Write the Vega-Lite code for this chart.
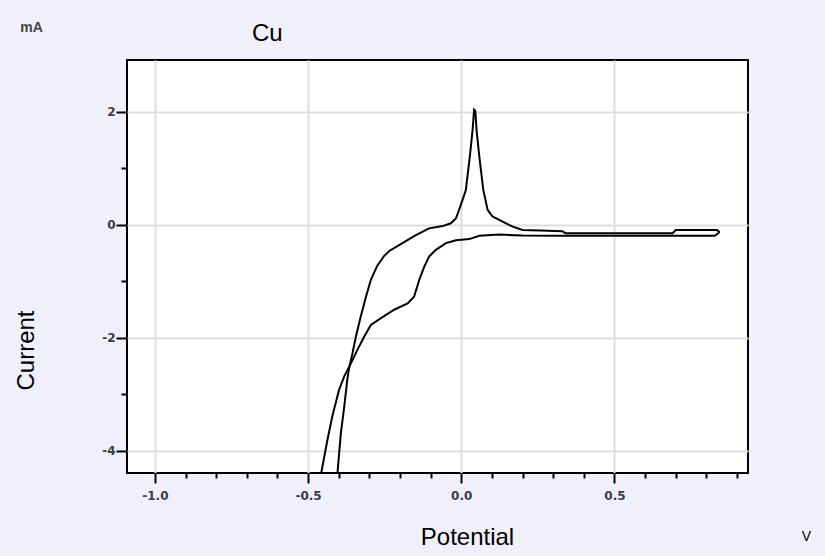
{
  "$schema": "https://vega.github.io/schema/vega-lite/v6.json",
  "width": 621,
  "height": 413,
  "autosize": {"type": "none"},
  "padding": {"left": 127, "top": 60, "right": 77, "bottom": 83},
  "background": "#f0f0fb",
  "config": {
    "view": {"fill": "white", "stroke": "black", "strokeWidth": 2},
    "axis": {"labelFont": "DejaVu Sans", "labelFontSize": 12, "labelFontWeight": "bold", "labelColor": "#3a3a48", "titleFont": "Liberation Sans", "titleFontWeight": "normal", "titleColor": "#000"}
  },
  "title": {"text": "Cu", "anchor": "start", "frame": "group", "dx": 125, "offset": 0, "dy": 45, "fontSize": 24, "font": "Liberation Sans", "fontWeight": "normal", "color": "#000", "baseline": "alphabetic"},
  "datasets": {
    "cathodic": [
      {"o": 1, "E": 0.843, "I": -0.13},
      {"o": 2, "E": 0.828, "I": -0.19},
      {"o": 3, "E": 0.70, "I": -0.19},
      {"o": 4, "E": 0.50, "I": -0.19},
      {"o": 5, "E": 0.33, "I": -0.19},
      {"o": 6, "E": 0.20, "I": -0.185},
      {"o": 7, "E": 0.124, "I": -0.17},
      {"o": 8, "E": 0.059, "I": -0.19},
      {"o": 9, "E": 0.026, "I": -0.25},
      {"o": 10, "E": -0.017, "I": -0.27},
      {"o": 11, "E": -0.05, "I": -0.32},
      {"o": 12, "E": -0.083, "I": -0.44},
      {"o": 13, "E": -0.105, "I": -0.56},
      {"o": 14, "E": -0.121, "I": -0.74},
      {"o": 15, "E": -0.137, "I": -0.97},
      {"o": 16, "E": -0.154, "I": -1.27},
      {"o": 17, "E": -0.175, "I": -1.39},
      {"o": 18, "E": -0.219, "I": -1.50},
      {"o": 19, "E": -0.262, "I": -1.65},
      {"o": 20, "E": -0.295, "I": -1.77},
      {"o": 21, "E": -0.317, "I": -1.98},
      {"o": 22, "E": -0.339, "I": -2.21},
      {"o": 23, "E": -0.360, "I": -2.45},
      {"o": 24, "E": -0.382, "I": -2.68},
      {"o": 25, "E": -0.399, "I": -2.92},
      {"o": 26, "E": -0.421, "I": -3.39},
      {"o": 27, "E": -0.437, "I": -3.81},
      {"o": 28, "E": -0.457, "I": -4.39},
      {"o": 29, "E": -0.463, "I": -4.6}
    ],
    "anodic": [
      {"o": 1, "E": -0.41, "I": -4.6},
      {"o": 2, "E": -0.404, "I": -4.39},
      {"o": 3, "E": -0.393, "I": -3.69},
      {"o": 4, "E": -0.382, "I": -3.22},
      {"o": 5, "E": -0.372, "I": -2.74},
      {"o": 6, "E": -0.366, "I": -2.53},
      {"o": 7, "E": -0.355, "I": -2.27},
      {"o": 8, "E": -0.344, "I": -1.98},
      {"o": 9, "E": -0.328, "I": -1.62},
      {"o": 10, "E": -0.311, "I": -1.27},
      {"o": 11, "E": -0.295, "I": -0.97},
      {"o": 12, "E": -0.274, "I": -0.72},
      {"o": 13, "E": -0.252, "I": -0.55},
      {"o": 14, "E": -0.235, "I": -0.46},
      {"o": 15, "E": -0.192, "I": -0.32},
      {"o": 16, "E": -0.148, "I": -0.18},
      {"o": 17, "E": -0.105, "I": -0.06},
      {"o": 18, "E": -0.061, "I": -0.02},
      {"o": 19, "E": -0.034, "I": 0.03},
      {"o": 20, "E": -0.017, "I": 0.12},
      {"o": 21, "E": -0.007, "I": 0.27},
      {"o": 22, "E": 0.004, "I": 0.44},
      {"o": 23, "E": 0.015, "I": 0.62},
      {"o": 24, "E": 0.028, "I": 1.21},
      {"o": 25, "E": 0.037, "I": 1.68},
      {"o": 26, "E": 0.042, "I": 2.04},
      {"o": 27, "E": 0.046, "I": 2.02},
      {"o": 28, "E": 0.050, "I": 1.68},
      {"o": 29, "E": 0.059, "I": 1.21},
      {"o": 30, "E": 0.072, "I": 0.62},
      {"o": 31, "E": 0.086, "I": 0.27},
      {"o": 32, "E": 0.102, "I": 0.15},
      {"o": 33, "E": 0.135, "I": 0.06},
      {"o": 34, "E": 0.168, "I": -0.03},
      {"o": 35, "E": 0.200, "I": -0.09},
      {"o": 36, "E": 0.26, "I": -0.10},
      {"o": 37, "E": 0.33, "I": -0.11},
      {"o": 38, "E": 0.34, "I": -0.145},
      {"o": 39, "E": 0.69, "I": -0.145},
      {"o": 40, "E": 0.70, "I": -0.09},
      {"o": 41, "E": 0.835, "I": -0.09},
      {"o": 42, "E": 0.843, "I": -0.13}
    ]
  },
  "layer": [
    {
      "data": {"name": "cathodic"},
      "mark": {"type": "line", "color": "black", "strokeWidth": 2, "clip": true},
      "encoding": {
        "x": {
          "field": "E", "type": "quantitative",
          "scale": {"domain": [-1.091, 0.936], "nice": false, "zero": false},
          "axis": {
            "values": [-1.0, -0.9, -0.8, -0.7, -0.6, -0.5, -0.4, -0.3, -0.2, -0.1, 0, 0.1, 0.2, 0.3, 0.4, 0.5, 0.6, 0.7, 0.8, 0.9],
            "title": "Potential", "titleFontSize": 24,
            "titleX": 340, "titleY": 64, "titleAlign": "center", "titleBaseline": "middle", "titleAnchor": null,
            "domain": false,
            "tickColor": "black", "tickWidth": 2,
            "tickSize": {"condition": {"test": "abs(datum.value*2 - round(datum.value*2)) < 0.001", "value": 10}, "value": 5},
            "labelExpr": "abs(datum.value*2 - round(datum.value*2)) < 0.001 ? replace(format(datum.value, '.1f'), '\u2212', '-') : ''",
            "labelPadding": 7, "labelFlush": false, "labelOverlap": false,
            "grid": true, "gridColor": "#dddddd", "gridWidth": 2,
            "gridOpacity": {"condition": {"test": "abs(datum.value*2 - round(datum.value*2)) < 0.001", "value": 1}, "value": 0}
          }
        },
        "y": {
          "field": "I", "type": "quantitative",
          "scale": {"domain": [-4.39, 2.92], "nice": false, "zero": false},
          "axis": {
            "values": [-4, -3, -2, -1, 0, 1, 2],
            "title": "Current", "titleFontSize": 24, "titleAngle": 270,
            "titleX": -101, "titleY": 290, "titleAlign": "center", "titleBaseline": "middle", "titleAnchor": null,
            "domain": false,
            "tickColor": "black", "tickWidth": 2,
            "tickSize": {"condition": {"test": "datum.value % 2 == 0", "value": 11}, "value": 6},
            "labelExpr": "datum.value % 2 == 0 ? replace(format(datum.value, 'd'), '\u2212', '-') : ''",
            "labelPadding": 1, "labelOverlap": false,
            "grid": true, "gridColor": "#dddddd", "gridWidth": 2,
            "gridOpacity": {"condition": {"test": "datum.value % 2 == 0", "value": 1}, "value": 0}
          }
        },
        "order": {"field": "o", "type": "quantitative"}
      }
    },
    {
      "data": {"name": "anodic"},
      "mark": {"type": "line", "color": "black", "strokeWidth": 2, "clip": true},
      "encoding": {
        "x": {
          "field": "E", "type": "quantitative",
          "axis": {"orient": "bottom", "title": "V", "domain": false, "ticks": false, "labels": false, "grid": false,
                   "titleFont": "Liberation Sans", "titleFontSize": 14, "titleX": 679, "titleY": 63, "titleAlign": "center", "titleBaseline": "middle", "titleAnchor": null}
        },
        "y": {
          "field": "I", "type": "quantitative",
          "axis": {"orient": "left", "title": "mA", "domain": false, "ticks": false, "labels": false, "grid": false,
                   "titleFont": "Liberation Sans", "titleFontSize": 14, "titleFontWeight": "bold", "titleAngle": 0, "titleColor": "#444", "titleX": -96, "titleY": -33, "titleAlign": "center", "titleBaseline": "middle", "titleAnchor": null}
        },
        "order": {"field": "o", "type": "quantitative"}
      }
    }
  ],
  "resolve": {"axis": {"x": "independent", "y": "independent"}}
}
